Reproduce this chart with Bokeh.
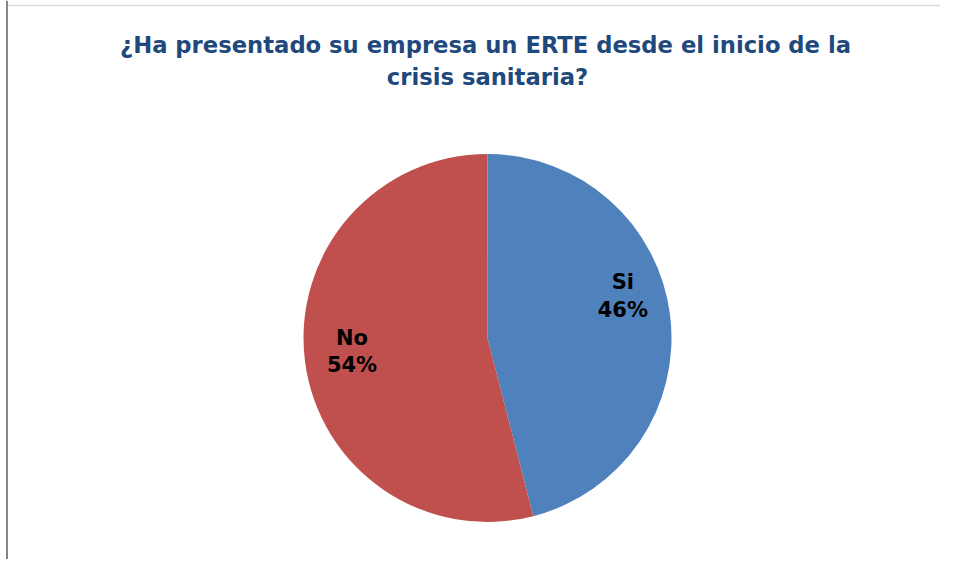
import math
from bokeh.plotting import figure
from bokeh.models import Range1d, Span, ColumnDataSource, BoxAnnotation
from bokeh.core.properties import value
from bokeh.embed import file_html
from bokeh.resources import INLINE

# ---- data ----
categories = ["Si", "No"]
shares = [46, 54]
colors = ["#4F81BD", "#C0504D"]
title_lines = ["¿Ha presentado su empresa un ERTE desde el inicio de la", "crisis sanitaria?"]

W, H = 940, 559
p = figure(width=W, height=H, output_backend="svg", toolbar_location=None,
           x_range=Range1d(0, W), y_range=Range1d(0, H), min_border=0)
p.axis.visible = False
p.grid.visible = False
p.outline_line_color = None
p.background_fill_color = "white"
p.border_fill_color = "white"

# pie geometry (layout)
cx, cy, r = 487, 221.5, 184
total = sum(shares)
starts, ends = [], []
acc = 0.0
for s in shares:
    # clockwise from 12 o'clock
    a0 = math.pi / 2 - 2 * math.pi * acc / total
    acc += s
    a1 = math.pi / 2 - 2 * math.pi * acc / total
    starts.append(a1)
    ends.append(a0)

src = ColumnDataSource(dict(cat=categories, start=starts, end=ends, color=colors))
p.wedge(x=cx, y=cy, radius=r, start_angle="start", end_angle="end",
        fill_color="color", line_color="white", line_width=0, source=src)

# labels
label_shift = [-10, 1.5]   # degrees, best-fit adjustment
label_frac = [0.77, 0.74]
lx, ly, lt = [], [], []
acc = 0.0
for cat, s, sh, fr in zip(categories, shares, label_shift, label_frac):
    mid = (acc + s / 2) / total * 360 + sh
    acc += s
    t = math.radians(mid)
    lx.append(cx + fr * r * math.sin(t))
    ly.append(cy + fr * r * math.cos(t))
    lt.append(f"{cat}\n{s}%")
p.text(x=lx, y=ly, text=lt, text_align="center", text_baseline="middle",
       text_font=value("DejaVu Sans"), text_font_style="bold",
       text_font_size="21px", text_color="black", text_line_height=1.15)

# title
p.text(x=[485, 487], y=[515, 483], text=title_lines, text_align="center",
       text_baseline="alphabetic", text_font=value("DejaVu Sans"),
       text_font_style="bold", text_font_size="22.7px", text_color="#1F497D")

# chart-area border (left and top only visible in reference)
p.add_layout(BoxAnnotation(left=6.5, top=H - 5, right=W + 20, bottom=-20,
                           fill_alpha=0, line_color="#868686", line_width=1.6))
p.add_layout(Span(location=6.5, dimension="height", line_color="#868686", line_width=2))

open("out.html", "w").write(file_html(p, INLINE))
